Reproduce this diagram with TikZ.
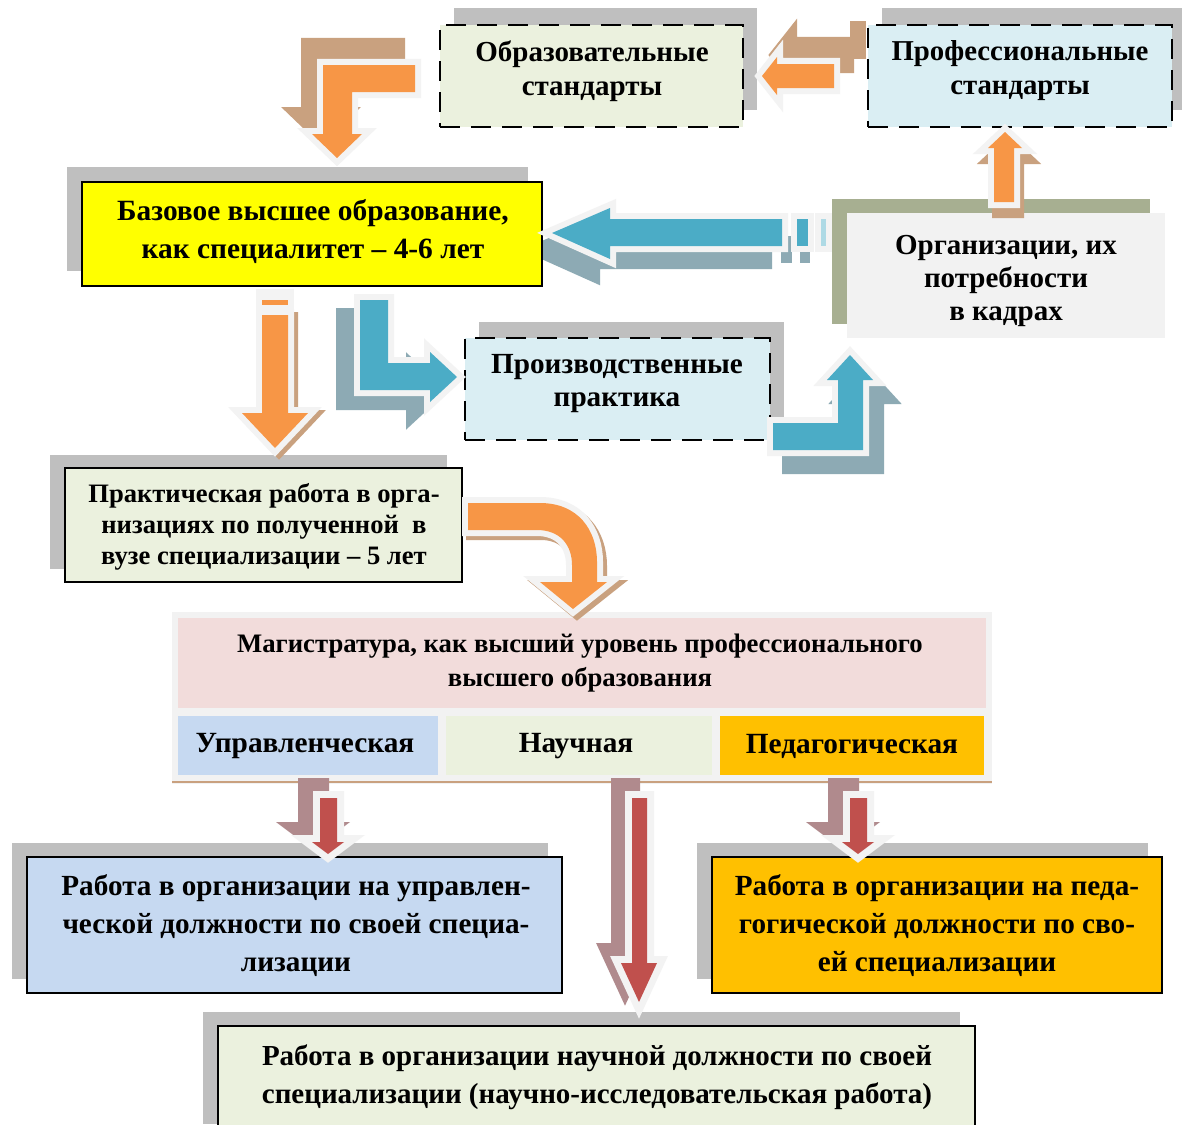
\documentclass[tikz,border=0pt]{standalone}
\usepackage{fontspec}
\setmainfont{Liberation Serif}
\definecolor{cOrange}{HTML}{F79646}
\definecolor{cTan}{HTML}{C9A17F}
\definecolor{cBlue}{HTML}{4BACC6}
\definecolor{cBlueSh}{HTML}{8DAAB4}
\definecolor{cRed}{HTML}{C0504D}
\definecolor{cMauve}{HTML}{B08A8D}
\definecolor{cOlive}{HTML}{A7AF91}
\definecolor{cShadow}{HTML}{BFBFBF}
\definecolor{cGreenL}{HTML}{EBF1DE}
\definecolor{cBlueL}{HTML}{DAEEF3}
\definecolor{cYellow}{HTML}{FFFF00}
\definecolor{cPink}{HTML}{F2DCDB}
\definecolor{cBlueC}{HTML}{C6D9F1}
\definecolor{cGold}{HTML}{FFC000}
\definecolor{cGray}{HTML}{F2F2F2}
\definecolor{cGlow}{HTML}{F3F3F3}
\tikzset{
  dbox/.style={draw=black, line width=2.5pt, dash pattern=on 20pt off 11pt, inner sep=0pt, minimum width=#1},
  sbox/.style={draw=black, line width=2.5pt, inner sep=0pt},
  txt/.style={inner sep=0pt, align=center, font=\bfseries\fontsize{#1}{34}\selectfont},
  arrsh/.style={fill=#1, draw=#1, line width=12pt, line join=miter},
  arrmain/.style={fill=#1, preaction={draw=cGlow, line width=12pt, line join=miter}},
  rsh/.style={fill=#1, draw=#1, line width=14pt, line join=miter},
  rmain/.style={fill=#1, preaction={draw=cGlow, line width=14pt, line join=miter}}
}
\newcommand{\arrA}[1]{\path[#1] (415,65) -- (415,92) -- (352,92) -- (352,134) -- (362,134) -- (337,158) -- (312,134) -- (323,134) -- (323,65) -- cycle;}
\newcommand{\arrB}[1]{\path[#1] (762,76) -- (777,57) -- (777,64) -- (834,64) -- (834,88) -- (777,88) -- (777,95) -- cycle;}
\newcommand{\arrC}[1]{\path[#1] (1005,132) -- (1022,148) -- (1014,148) -- (1014,202) -- (994,202) -- (994,148) -- (988,148) -- cycle;}
\newcommand{\arrD}[1]{\path[#1] (552,233) -- (610,208) -- (610,219) -- (782,219) -- (782,246) -- (610,246) -- (610,259) -- cycle;}
\newcommand{\arrE}[1]{\path[#1] (360,300) -- (388,300) -- (388,363) -- (430,363) -- (430,352) -- (457,377) -- (430,402) -- (430,390) -- (360,390) -- cycle;}
\newcommand{\arrF}[1]{\path[#1] (773,423) -- (838,423) -- (838,380) -- (827,380) -- (850,355) -- (873,380) -- (863,380) -- (863,450) -- (773,450) -- cycle;}
\newcommand{\arrG}[1]{\path[#1] (262,315) -- (288,315) -- (288,413) -- (308,413) -- (275,448) -- (242,413) -- (262,413) -- cycle;}
\newcommand{\arrH}[1]{\path[#1] (468,503) -- (540,503) .. controls (578,503) and (597,530) .. (597,562) -- (597,582) -- (607,582) -- (573,609) -- (540,582) -- (572,582) -- (572,565) .. controls (572,545) and (560,530) .. (537,530) -- (468,530) -- cycle;}
\newcommand{\arrRa}[1]{\path[#1] (320,798) -- (337,798) -- (337,842) -- (344,842) -- (328,854) -- (312,842) -- (320,842) -- cycle;}
\newcommand{\arrRb}[1]{\path[#1] (632,798) -- (647,798) -- (647,963) -- (657,963) -- (639,1002) -- (621,963) -- (632,963) -- cycle;}
\newcommand{\arrRc}[1]{\path[#1] (850,798) -- (867,798) -- (867,842) -- (874,842) -- (858,854) -- (842,842) -- (850,842) -- cycle;}
\begin{document}
\begin{tikzpicture}[x=1pt,y=-1pt]
\useasboundingbox[fill=white] (0,0) rectangle (1182,1124);
% box shadows
\fill[cShadow] (454,8) rectangle (757,110);
\fill[cShadow] (882,8) rectangle (1182,110);
\fill[cShadow] (67,167) rectangle (528,271);
\fill[cOlive] (832,199) rectangle (1150,324);
\fill[cShadow] (479,322) rectangle (784,424);
\fill[cShadow] (50,455) rectangle (447,569);
\fill[cShadow] (12,843) rectangle (548,979);
\fill[cShadow] (697,843) rectangle (1148,979);
\fill[cShadow] (203,1012) rectangle (960,1124);
% shadow of blue left arrow (behind yellow box)
\begin{scope}[shift={(-16,17)}]
\arrD{arrsh=cBlueSh}
\fill[cBlueSh] (797,219) rectangle (808,246);
\fill[cBlueSh] (816,219) rectangle (826,246);
\end{scope}
% boxes
\node[dbox=303, minimum height=102, fill=cGreenL] (obr) at (591.5,76) {};
\node[dbox=304, minimum height=102, fill=cBlueL] (prof) at (1020,76) {};
\node[sbox, minimum width=460, minimum height=104, fill=cYellow] (baz) at (312,234) {};
\node[inner sep=0pt, minimum width=318, minimum height=125, fill=cGray] (org) at (1006,275.5) {};
\node[dbox=305, minimum height=102, fill=cBlueL] (proizv) at (617.5,389) {};
\node[draw=black, line width=1.3pt, inner sep=0pt, minimum width=397, minimum height=114, fill=cGreenL] (prakt) at (263.5,525) {};
% magistratura table
\fill[cGray] (172,612) rectangle (992,784);
\draw[cTan, line width=2.5pt] (172,782) -- (992,782);
\node[inner sep=0pt, minimum width=808, minimum height=90, fill=cPink] (mag) at (582,663) {};
\node[inner sep=0pt, minimum width=260, minimum height=59, fill=cBlueC] (c1) at (308,745.5) {};
\node[inner sep=0pt, minimum width=266, minimum height=59, fill=cGreenL] (c2) at (579,745.5) {};
\node[inner sep=0pt, minimum width=264, minimum height=59, fill=cGold] (c3) at (852,745.5) {};
\node[sbox, minimum width=535, minimum height=136, fill=cBlueC] (upr) at (294.5,925) {};
\node[sbox, minimum width=450, minimum height=136, fill=cGold] (ped) at (937,925) {};
\node[sbox, minimum width=757, minimum height=100, fill=cGreenL] (nauch) at (596.5,1076) {};
% texts
\node[txt=29] (obrt) at (592,71) {Образовательные\\стандарты};
\node[txt=28.8] (proft) at (1020,71) {Профессиональные\\стандарты};
\node[txt=28, font=\bfseries\fontsize{29.4}{38}\selectfont] (bazt) at (313,232) {Базовое высшее образование,\\как специалитет – 4-6 лет};
\node[txt=27, font=\bfseries\fontsize{29}{33}\selectfont] (orgt) at (1006,281) {Организации, их\\потребности\\в кадрах};
\node[txt=27, font=\bfseries\fontsize{29.2}{33}\selectfont] (proizvt) at (617,384) {Производственные\\практика};
\node[txt=25, font=\bfseries\fontsize{26.6}{31}\selectfont] (praktt) at (264,527) {Практическая работа в орга-\\низациях по полученной\ \ в\\вузе специализации – 5 лет};
\node[txt=26.7] (magt) at (580,663) {Магистратура, как высший уровень профессионального\\высшего образования};
\node[txt=29.3] (c1t) at (305,746) {Управленческая};
\node[txt=29.3] (c2t) at (576,746) {Научная};
\node[txt=29.3] (c3t) at (852,746) {Педагогическая};
\node[txt=28, font=\bfseries\fontsize{29.2}{38}\selectfont] (uprt) at (296,926) {Работа в организации на управлен-\\ческой должности по своей специа-\\лизации};
\node[txt=28, font=\bfseries\fontsize{29.2}{38}\selectfont] (pedt) at (937,926) {Работа в организации на педа-\\гогической должности по сво-\\ей специализации};
\node[txt=28, font=\bfseries\fontsize{29}{38}\selectfont] (naucht) at (597,1077) {Работа в организации научной должности по своей\\специализации (научно-исследовательская работа)};
% arrow 1: obr -> baz
\begin{scope}[shift={(-16,-21)}]\arrA{arrsh=cTan}\end{scope}
\arrA{arrmain=cOrange}
% arrow 2: prof -> obr
\begin{scope}[shift={(14,-21)}]\arrB{arrsh=cTan}\fill[cTan] (836,42) rectangle (852,80);\end{scope}
\arrB{arrmain=cOrange}
% arrow 3: org -> prof
\begin{scope}[shift={(4,10)}]\arrC{arrsh=cTan}\end{scope}
\arrC{arrmain=cOrange}
% arrow 4: org -> baz
\arrD{arrmain=cBlue}
\path[arrmain=cBlue] (797,219) rectangle (808,246);
\path[arrmain=cBlue!45] (821,219) rectangle (826,246);
% arrow 5: baz -> proizv
\begin{scope}[shift={(-18,14)}]\arrE{arrsh=cBlueSh}\end{scope}
\arrE{arrmain=cBlue}
% arrow 6: proizv -> org
\begin{scope}[shift={(15,18)}]\arrF{arrsh=cBlueSh}\end{scope}
\arrF{arrmain=cBlue}
% arrow 7: baz -> prakt
\begin{scope}[shift={(4,3)}]\arrG{arrsh=cTan}\end{scope}
\fill[cGlow] (256,289) rectangle (294,316);
\arrG{arrmain=cOrange}
\fill[cOrange] (262,300) rectangle (288,305);
% arrow 8: prakt -> mag
\begin{scope}[shift={(4,4)}]\arrH{arrsh=cTan}\end{scope}
\arrH{arrmain=cOrange}
% red arrows
\begin{scope}[shift={(-15,-13)}]\arrRa{rsh=cMauve}\end{scope}
\arrRa{rmain=cRed}
\begin{scope}[shift={(-14,-13)}]\arrRb{rsh=cMauve}\end{scope}
\arrRb{rmain=cRed}
\begin{scope}[shift={(-15,-13)}]\arrRc{rsh=cMauve}\end{scope}
\arrRc{rmain=cRed}
\end{tikzpicture}
\end{document}
